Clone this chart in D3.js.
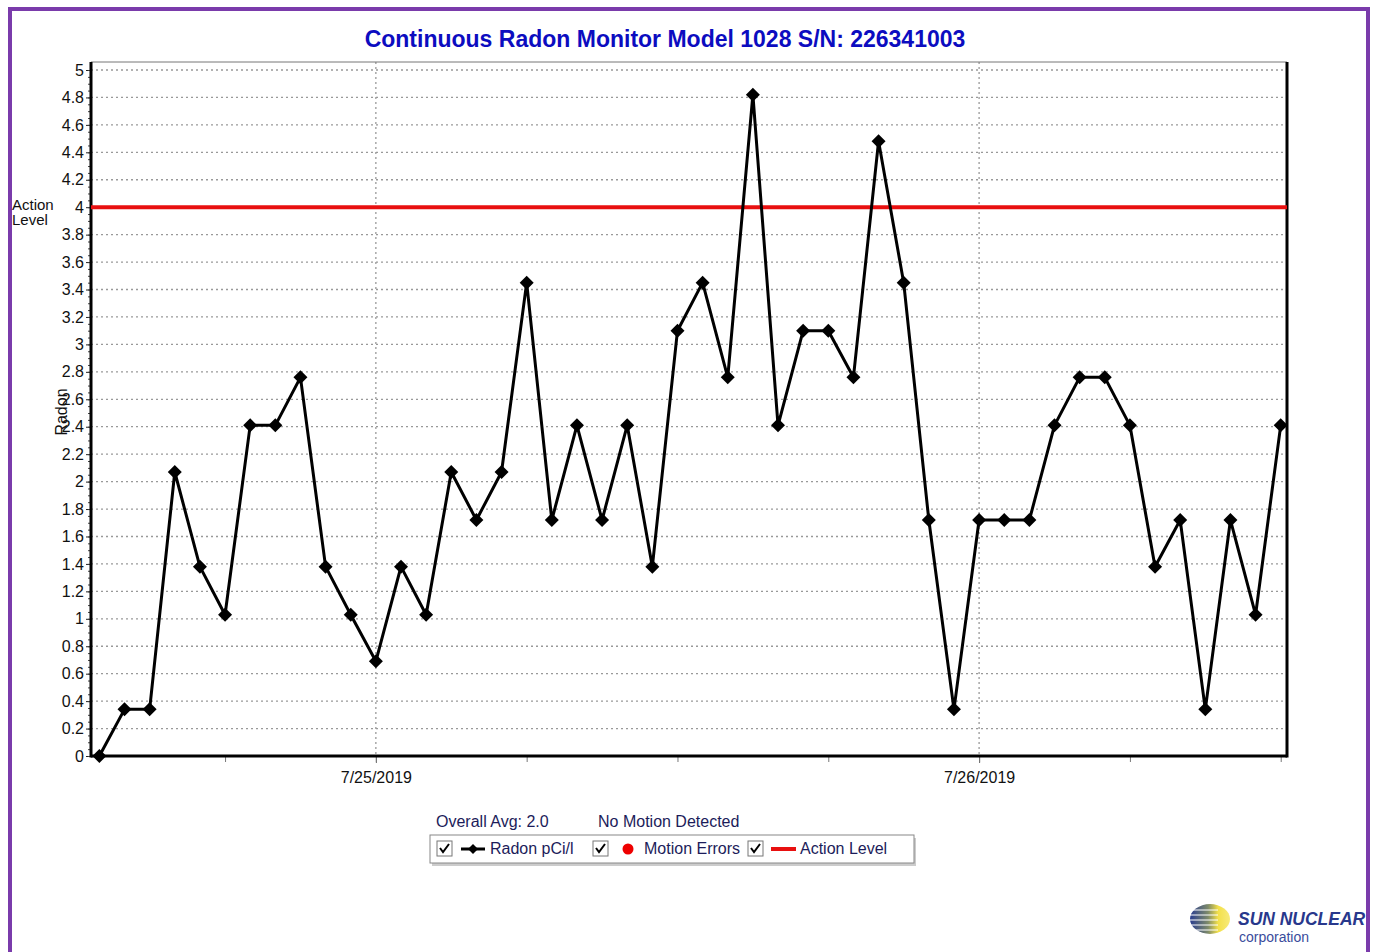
<!DOCTYPE html>
<html>
<head>
<meta charset="utf-8">
<script src="https://cdn.jsdelivr.net/npm/d3@7"></script>
<style>
body { margin: 0; background: #fff; }
svg text { font-family: "Liberation Sans", Arial, sans-serif; }
</style>
</head>
<body>
<script>
// chart values
var title = "Continuous Radon Monitor Model 1028 S/N: 226341003";
var startHour = new Date(2019, 6, 24, 13, 0); // first hourly reading
var radon = [0, 0.34, 0.34, 2.07, 1.38, 1.03, 2.41, 2.41, 2.76, 1.38, 1.03, 0.69,
             1.38, 1.03, 2.07, 1.72, 2.07, 3.45, 1.72, 2.41, 1.72, 2.41, 1.38, 3.10,
             3.45, 2.76, 4.82, 2.41, 3.10, 3.10, 2.76, 4.48, 3.45, 1.72, 0.34, 1.72,
             1.72, 1.72, 2.41, 2.76, 2.76, 2.41, 1.38, 1.72, 0.34, 1.72, 1.03, 2.41];
var actionLevel = 4;
var yTicks = d3.range(0, 5.001, 0.2);
var dayTicks = [new Date(2019, 6, 25), new Date(2019, 6, 26)];
var dayLabels = ["7/25/2019", "7/26/2019"];
var legendItems = ["Radon pCi/l", "Motion Errors", "Action Level"];
var avgText = "Overall Avg: 2.0";
var motionText = "No Motion Detected";

var w = 1375, h = 952;
var pLeft = 91, pRight = 1287, pTop = 62, pBottom = 756;

var svg = d3.select("body").append("svg")
    .attr("width", w).attr("height", h);

// purple frame
svg.append("rect").attr("x", 10).attr("y", 9).attr("width", 1358).attr("height", 980)
   .attr("fill", "none").attr("stroke", "#7a3bab").attr("stroke-width", 4);

svg.append("text").attr("x", 665).attr("y", 47).attr("text-anchor", "middle")
   .attr("font-size", "23px").attr("font-weight", "bold").attr("fill", "#0c0cc0")
   .text(title);

var x = d3.scaleTime()
    .domain([new Date(2019, 6, 24, 12, 40), new Date(2019, 6, 26, 12, 15)])
    .range([pLeft, pRight]);
var y = d3.scaleLinear().domain([0, 5]).range([pBottom, 70]);

var data = radon.map(function(v, i) {
    return { t: d3.timeHour.offset(startHour, i), v: v };
});

// dotted grid
svg.selectAll(".hgrid").data(yTicks.slice(1)).enter().append("line")
   .attr("x1", pLeft).attr("x2", pRight)
   .attr("y1", d => y(d)).attr("y2", d => y(d))
   .attr("stroke", "#999").attr("stroke-width", 1.3).attr("stroke-dasharray", "2,3");
svg.selectAll(".vgrid").data(dayTicks).enter().append("line")
   .attr("x1", d => x(d)).attr("x2", d => x(d))
   .attr("y1", pTop).attr("y2", pBottom)
   .attr("stroke", "#999").attr("stroke-width", 1.3).attr("stroke-dasharray", "2,3");

// top border thin
svg.append("line").attr("x1", pLeft).attr("x2", pRight).attr("y1", pTop).attr("y2", pTop)
   .attr("stroke", "#777").attr("stroke-width", 1);

// y axis
var yAxis = svg.append("g").attr("transform", "translate(" + pLeft + ",0)")
   .call(d3.axisLeft(y).tickValues(yTicks).tickSize(5).tickSizeOuter(0)
         .tickFormat(d => +d.toFixed(1)));
yAxis.select(".domain").remove();
yAxis.selectAll("text").attr("font-size", "16px").attr("fill", "#111").attr("dx", "1");
yAxis.selectAll("line").attr("stroke", "#222");
var yMinor = svg.append("g").attr("transform", "translate(" + pLeft + ",0)")
   .call(d3.axisLeft(y).tickValues(d3.range(0, 5.001, 0.05)).tickSize(3).tickFormat(""));
yMinor.select(".domain").remove();
yMinor.selectAll("line").attr("stroke", "#444");

// x axis
var xAxis = svg.append("g").attr("transform", "translate(0," + pBottom + ")")
   .call(d3.axisBottom(x).tickValues(dayTicks).tickSize(7)
         .tickFormat((d, i) => dayLabels[i]));
xAxis.select(".domain").remove();
xAxis.selectAll("text").attr("font-size", "16px").attr("fill", "#111").attr("dy", "1.05em");
xAxis.selectAll("line").attr("stroke", "#666");
var xMinor = svg.append("g").attr("transform", "translate(0," + pBottom + ")")
   .call(d3.axisBottom(x).ticks(d3.timeHour.every(6)).tickSize(6).tickFormat(""));
xMinor.select(".domain").remove();
xMinor.selectAll("line").attr("stroke", "#777");

// axis lines
svg.append("line").attr("x1", pLeft).attr("x2", pLeft).attr("y1", pTop).attr("y2", pBottom + 1.5)
   .attr("stroke", "#000").attr("stroke-width", 3);
svg.append("line").attr("x1", pRight).attr("x2", pRight).attr("y1", pTop).attr("y2", pBottom + 1.5)
   .attr("stroke", "#000").attr("stroke-width", 3);
svg.append("line").attr("x1", pLeft).attr("x2", pRight).attr("y1", pBottom).attr("y2", pBottom)
   .attr("stroke", "#000").attr("stroke-width", 3);

// action level
svg.append("line").attr("x1", pLeft).attr("x2", pRight)
   .attr("y1", y(actionLevel)).attr("y2", y(actionLevel))
   .attr("stroke", "#e81010").attr("stroke-width", 4);
svg.append("text").attr("x", 12).attr("y", y(actionLevel) + 3)
   .attr("font-size", "15px").attr("fill", "#111").text("Action");
svg.append("text").attr("x", 12).attr("y", y(actionLevel) + 18)
   .attr("font-size", "15px").attr("fill", "#111").text("Level");

// axis title
svg.append("text").attr("transform", "translate(67,412) rotate(-90)")
   .attr("text-anchor", "middle").attr("font-size", "16px").attr("fill", "#111")
   .text("Radon");

// radon line and points
var line = d3.line().x(d => x(d.t)).y(d => y(d.v));
svg.append("path").datum(data).attr("d", line)
   .attr("fill", "none").attr("stroke", "#000").attr("stroke-width", 3)
   .attr("stroke-linejoin", "round");
svg.selectAll(".pt").data(data).enter().append("path")
   .attr("transform", d => "translate(" + x(d.t) + "," + y(d.v) + ")")
   .attr("d", "M0,-7L7,0L0,7L-7,0Z").attr("fill", "#000");

// legend
svg.append("text").attr("x", 436).attr("y", 827).attr("font-size", "16px")
   .attr("fill", "#1c1c5a").text(avgText);
svg.append("text").attr("x", 598).attr("y", 827).attr("font-size", "16px")
   .attr("fill", "#1c1c5a").text(motionText);
svg.append("rect").attr("x", 432).attr("y", 838).attr("width", 484).attr("height", 28)
   .attr("fill", "#ccc");
svg.append("rect").attr("x", 430).attr("y", 835).attr("width", 484).attr("height", 28)
   .attr("fill", "#fff").attr("stroke", "#888").attr("stroke-width", 1);

var boxX = [437, 593, 748];
var textX = [490, 644, 800];
boxX.forEach(function(bx, i) {
    var g = svg.append("g").attr("transform", "translate(" + bx + ",841)");
    g.append("rect").attr("width", 15).attr("height", 15).attr("fill", "#fff")
     .attr("stroke", "#777");
    g.append("path").attr("d", "M3,7L6,11L12,3").attr("fill", "none")
     .attr("stroke", "#000").attr("stroke-width", 2);
    svg.append("text").attr("x", textX[i]).attr("y", 854).attr("font-size", "16px")
     .attr("fill", "#1c1c5a").text(legendItems[i]);
});
svg.append("line").attr("x1", 461).attr("x2", 485).attr("y1", 849).attr("y2", 849)
   .attr("stroke", "#000").attr("stroke-width", 3);
svg.append("path").attr("transform", "translate(473,849)").attr("d", "M0,-5L5,0L0,5L-5,0Z")
   .attr("fill", "#000");
svg.append("circle").attr("cx", 628).attr("cy", 849).attr("r", 5.5).attr("fill", "#e00");
svg.append("line").attr("x1", 771).attr("x2", 796).attr("y1", 849).attr("y2", 849)
   .attr("stroke", "#e81010").attr("stroke-width", 4);

// logo
var defs = svg.append("defs");
var grad = defs.append("linearGradient").attr("id", "sun");
grad.append("stop").attr("offset", "0%").attr("stop-color", "#2a3d8f");
grad.append("stop").attr("offset", "45%").attr("stop-color", "#7d8a6a");
grad.append("stop").attr("offset", "70%").attr("stop-color", "#f3e04a");
grad.append("stop").attr("offset", "100%").attr("stop-color", "#f7ea7a");
var logo = svg.append("g").attr("transform", "translate(1210,919)");
logo.append("ellipse").attr("rx", 20).attr("ry", 15).attr("fill", "url(#sun)");
[-9, -4, 1, 6, 11].forEach(function(sy) {
    logo.append("line").attr("x1", -22).attr("x2", 8).attr("y1", sy).attr("y2", sy)
        .attr("stroke", "#fff").attr("stroke-width", 1);
});
svg.append("text").attr("x", 1238).attr("y", 925).attr("font-size", "19px")
   .attr("font-weight", "bold").attr("font-style", "italic").attr("fill", "#28388c")
   .attr("transform", "translate(1238,925) scale(0.92,1) translate(-1238,-925)")
   .text("SUN NUCLEAR");
svg.append("text").attr("x", 1239).attr("y", 942).attr("font-size", "14px")
   .attr("fill", "#3a4c9c").text("corporation");
</script>
</body>
</html>
